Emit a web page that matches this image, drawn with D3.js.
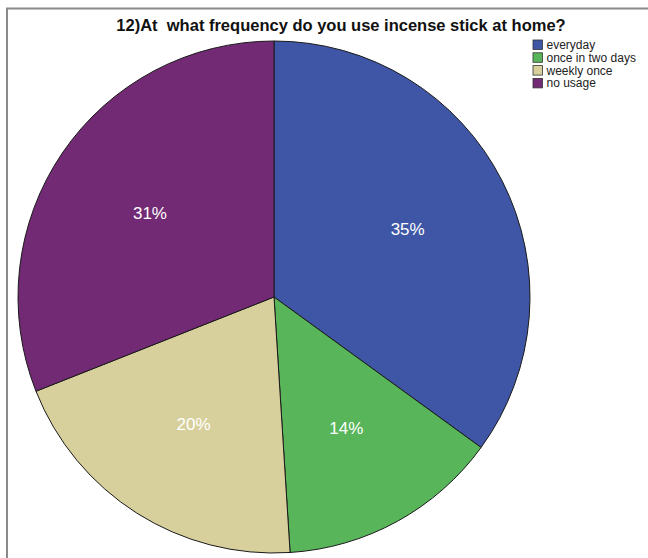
<!DOCTYPE html>
<html>
<head>
<meta charset="utf-8">
<script src="https://cdn.jsdelivr.net/npm/d3@7"></script>
<style>
html,body{margin:0;padding:0;background:#fff;}
svg{display:block;font-family:"Liberation Sans",Arial,sans-serif;}
</style>
</head>
<body>
<svg id="chart" width="648" height="558"></svg>
<script>
const title = "12)At\u00a0 what frequency do you use incense stick at home?";
const categories = ["everyday", "once in two days", "weekly once", "no usage"];
const values = [35, 14, 20, 31];
const colors = ["#3F56A6", "#58B55A", "#D7CF9C", "#722A74"];

const svg = d3.select("#chart");
const W = 648, H = 558;

// frame
svg.append("line").attr("x1", 6).attr("x2", W).attr("y1", 8.5).attr("y2", 8.5)
  .attr("stroke", "#8a8a8a").attr("stroke-width", 2);
svg.append("line").attr("x1", 7).attr("x2", 7).attr("y1", 8).attr("y2", H)
  .attr("stroke", "#8a8a8a").attr("stroke-width", 2);

svg.append("text").attr("x", 341).attr("y", 31).attr("text-anchor", "middle")
  .attr("font-size", 16.5).attr("font-weight", "bold").attr("fill", "#111").text(title);

const cx = 274, cy = 297, R = 256;
const pie = d3.pie().sort(null).value(d => d)(values);
const arc = d3.arc().innerRadius(0).outerRadius(R);
const labelArc = d3.arc().innerRadius(150).outerRadius(150);
const color = d3.scaleOrdinal().domain(categories).range(colors);

const g = svg.append("g").attr("transform", `translate(${cx},${cy})`);
g.selectAll("path").data(pie).join("path")
  .attr("d", arc)
  .attr("fill", (d, i) => color(categories[i]))
  .attr("stroke", "#1a1a1a").attr("stroke-width", 1);

g.selectAll("text.lbl").data(pie).join("text").attr("class", "lbl")
  .attr("transform", d => `translate(${labelArc.centroid(d)})`)
  .attr("text-anchor", "middle").attr("dy", "0.35em")
  .attr("font-size", 17).attr("fill", "#fff")
  .text(d => Math.round(d.value / d3.sum(values) * 100) + "%");

// legend
const lg = svg.append("g").attr("transform", "translate(533,40)");
const items = lg.selectAll("g").data(categories).join("g")
  .attr("transform", (d, i) => `translate(0,${i * 12.8})`);
items.append("rect").attr("width", 9.5).attr("height", 9.5)
  .attr("fill", d => color(d)).attr("stroke", "#333").attr("stroke-width", 0.8);
items.append("text").attr("x", 13.5).attr("y", 9).attr("font-size", 12).attr("fill", "#222")
  .text(d => d);
</script>
</body>
</html>
